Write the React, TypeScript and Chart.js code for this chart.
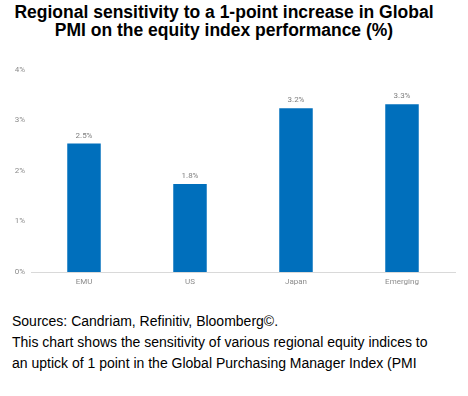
import React, { useEffect, useRef } from "react";
import { Chart, registerables } from "chart.js";

Chart.register(...registerables);

const categories = ["EMU", "US", "Japan", "Emerging"];
const sensitivity = [2.54, 1.74, 3.24, 3.32];
const valueLabels = ["2.5%", "1.8%", "3.2%", "3.3%"];
const yTicks = [0, 1, 2, 3, 4];

const titleLines = [
  "Regional sensitivity to a 1-point increase in Global",
  "PMI on the equity index performance (%)",
];
const footLines = [
  "Sources: Candriam, Refinitiv, Bloomberg©.",
  "This chart shows the sensitivity of various regional equity indices to",
  "an uptick of 1 point in the Global Purchasing Manager Index (PMI",
];

const barLabelPlugin = {
  id: "barLabels",
  afterDatasetsDraw(chart: any) {
    const ctx = chart.ctx;
    const meta = chart.getDatasetMeta(0);
    ctx.save();
    ctx.font = "8px Roboto, 'Liberation Sans', sans-serif";
    ctx.fillStyle = "#7f7f7f";
    ctx.textAlign = "center";
    ctx.textBaseline = "middle";
    meta.data.forEach((bar: any, i: number) => {
      ctx.fillText(valueLabels[i], bar.x, bar.y - 8);
    });
    ctx.restore();
  },
};

export default function App() {
  const canvasRef = useRef<HTMLCanvasElement>(null);

  useEffect(() => {
    const chart = new Chart(canvasRef.current as HTMLCanvasElement, {
      type: "bar",
      data: {
        labels: categories,
        datasets: [
          {
            data: sensitivity,
            backgroundColor: "#006fbc",
            borderWidth: 0,
            barPercentage: 0.316,
            categoryPercentage: 1,
          },
        ],
      },
      plugins: [barLabelPlugin],
      options: {
        animation: false,
        responsive: false,
        maintainAspectRatio: false,
        layout: { padding: { top: 0, right: 13, bottom: 0, left: 0 } },
        plugins: {
          legend: { display: false },
          tooltip: { enabled: false },
          title: { display: false },
        },
        scales: {
          x: {
            grid: { display: false, drawTicks: false },
            border: { display: true, color: "#d9d9d9", width: 1 },
            ticks: {
              color: "#8c8c8c",
              font: { size: 8, family: "Roboto, 'Liberation Sans', sans-serif" },
              padding: 5,
            },
            afterFit(scale: any) {
              scale.height = 28;
            },
          },
          y: {
            min: 0,
            max: 4,
            afterBuildTicks(scale: any) {
              scale.ticks = yTicks.map((v) => ({ value: v }));
            },
            grid: { display: false, drawTicks: false },
            border: { display: false },
            ticks: {
              color: "#8c8c8c",
              font: { size: 8, family: "Roboto, 'Liberation Sans', sans-serif" },
              padding: 6,
              callback: (v: any) => v + "%",
            },
            afterFit(scale: any) {
              scale.width = 31;
            },
          },
        },
      },
    });
    return () => chart.destroy();
  }, []);

  return (
    <div
      style={{
        position: "absolute",
        left: 0,
        top: 0,
        width: 468,
        height: 396,
        background: "#fff",
        overflow: "hidden",
        fontFamily: "'Liberation Sans', Arial, sans-serif",
      }}
    >
      <div
        style={{
          position: "absolute",
          left: 0,
          top: 0,
          width: 448,
          textAlign: "center",
          fontWeight: "bold",
          fontSize: 17.5,
          lineHeight: "18px",
          color: "#000",
          paddingTop: 3,
        }}
      >
        {titleLines.map((l, i) => (
          <div key={i}>{l}</div>
        ))}
      </div>
      <canvas
        ref={canvasRef}
        width={468}
        height={241}
        style={{ position: "absolute", left: 0, top: 59, width: 468, height: 241 }}
      />
      <div
        style={{
          position: "absolute",
          left: 12,
          top: 311,
          width: 456,
          fontSize: 14,
          lineHeight: "21px",
          color: "#000",
          whiteSpace: "nowrap",
        }}
      >
        {footLines.map((l, i) => (
          <div key={i}>{l}</div>
        ))}
      </div>
    </div>
  );
}
